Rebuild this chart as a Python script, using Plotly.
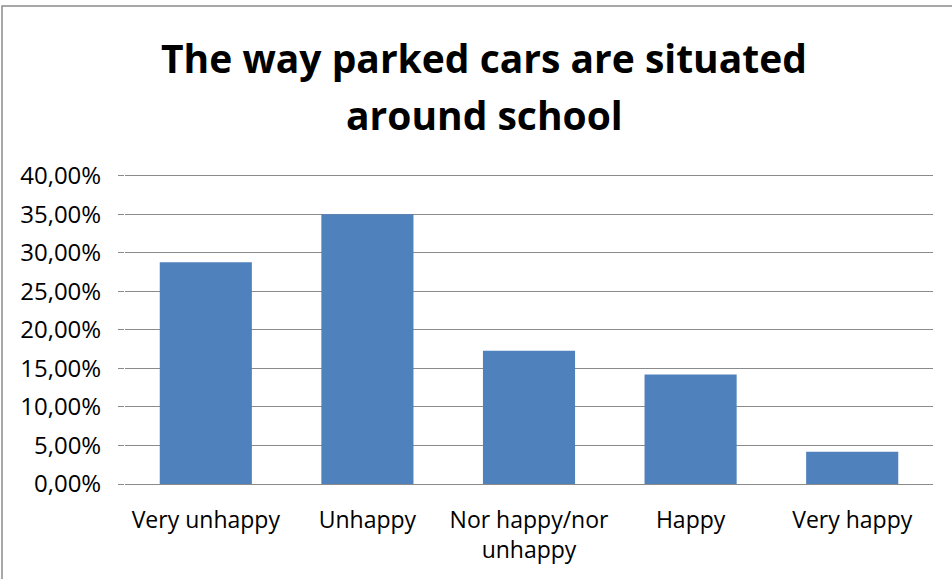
import plotly.graph_objects as go

# Survey answers: satisfaction with parked cars around the school
categories = ["Very unhappy", "Unhappy", "Nor happy/nor unhappy", "Happy", "Very happy"]
tick_labels = ["Very unhappy", "Unhappy", "Nor happy/nor<br>unhappy", "Happy", "Very happy"]
shares = [0.288, 0.350, 0.173, 0.142, 0.042]
y_ticks = [0.0, 0.05, 0.10, 0.15, 0.20, 0.25, 0.30, 0.35, 0.40]
y_max = 0.405

title_line1 = "The way parked cars are situated"
title_line2 = "around school"

W, H = 952, 579
L, R, T, B = 125, 19, 172, 95
plot_w = W - L - R
plot_h = H - T - B


def px_x(p):
    return (p - L) / plot_w


def px_y(p):
    return (H - B - p) / plot_h


font_family = "Open Sans, Lato, DejaVu Sans, sans-serif"
grid_col = "#8a8a8a"

fig = go.Figure(
    go.Bar(
        x=categories,
        y=shares,
        marker=dict(color="#4F81BD", line=dict(width=0)),
        hoverinfo="x+y",
    )
)

fig.update_layout(
    width=W,
    height=H,
    margin=dict(l=L, r=R, t=T, b=B, pad=0),
    paper_bgcolor="white",
    plot_bgcolor="white",
    bargap=0.43,
    showlegend=False,
    separators=",.",
    font=dict(family=font_family, color="#000000"),
)

fig.update_xaxes(
    type="category",
    tickmode="array",
    tickvals=categories,
    ticktext=tick_labels,
    tickfont=dict(size=23, family=font_family, color="#000000"),
    showgrid=False,
    showline=False,
    ticks="outside",
    ticklen=15,
    tickcolor="rgba(0,0,0,0)",
    zeroline=False,
)

fig.update_yaxes(
    range=[0, y_max],
    tickmode="array",
    tickvals=y_ticks,
    tickformat=".2%",
    tickfont=dict(size=24, family=font_family, color="#000000"),
    showgrid=True,
    gridcolor=grid_col,
    gridwidth=1,
    zeroline=True,
    zerolinecolor=grid_col,
    zerolinewidth=1,
    showline=False,
    ticks="outside",
    ticklen=6,
    tickcolor=grid_col,
    ticklabelstandoff=12,
)

# two-line title as separate annotations for exact line spacing
fig.add_annotation(
    text="<b>" + title_line1 + "</b>",
    x=px_x(484), y=px_y(57),
    xref="paper", yref="paper",
    xanchor="center", yanchor="middle",
    showarrow=False,
    font=dict(size=39, family=font_family, color="#000000"),
)
fig.add_annotation(
    text="<b>" + title_line2 + "</b>",
    x=px_x(484), y=px_y(114),
    xref="paper", yref="paper",
    xanchor="center", yanchor="middle",
    showarrow=False,
    font=dict(size=39, family=font_family, color="#000000"),
)

# chart frame
fig.add_shape(
    type="rect",
    xref="paper", yref="paper",
    x0=px_x(2), x1=px_x(965),
    y0=px_y(595), y1=px_y(6),
    line=dict(color="#8c8c8c", width=1.5),
    fillcolor="rgba(0,0,0,0)",
    layer="below",
)

fig.write_html("out.html")
